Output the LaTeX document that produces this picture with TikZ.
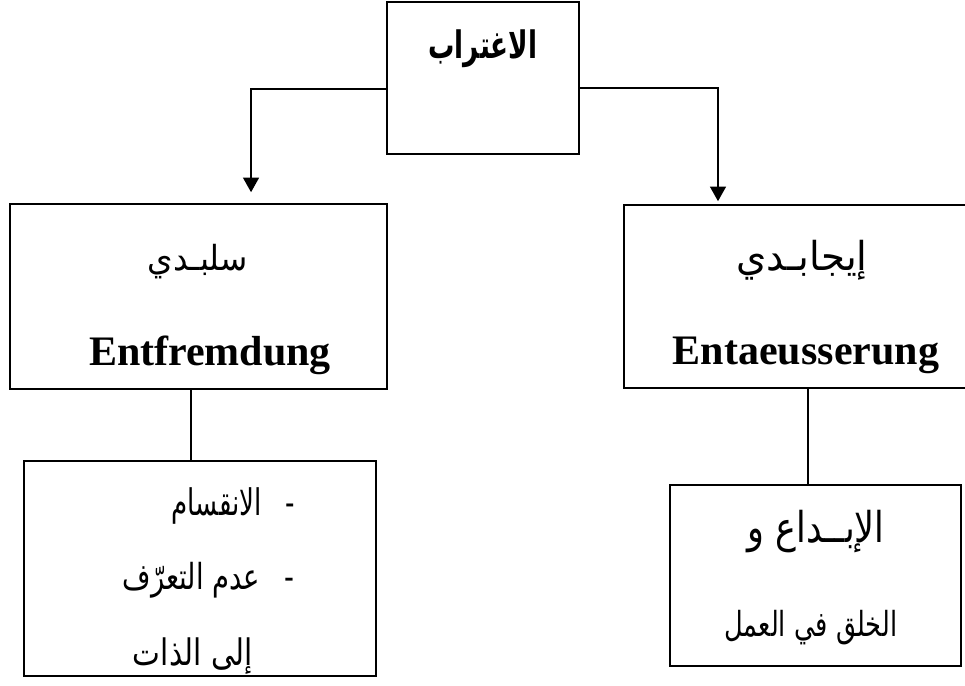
\documentclass[tikz,border=0pt]{standalone}
\usepackage{fontspec}
\setmainfont{Liberation Serif}
\newfontfamily\arabicfont[Script=Arabic]{DejaVu Sans}
\usetikzlibrary{arrows.meta}
\TeXXeTstate=1
\newcommand{\arfit}[3]{\resizebox*{#1}{#2}{\arabicfont #3}}
\newcommand{\arfitb}[3]{\resizebox*{#1}{#2}{\arabicfont\bfseries #3}}
\begin{document}
\begin{tikzpicture}[x=0.75pt,y=-0.75pt,
  box/.style={draw,line width=1.2pt,rectangle,inner sep=0pt},
  conn/.style={line width=1.2pt},
  arr/.style={conn,-{Triangle[width=12pt,length=11pt]}},
  lat/.style={inner sep=0pt,font=\fontsize{31.5}{36}\selectfont\bfseries},
  txt/.style={inner sep=0pt}]
\useasboundingbox (0,0) rectangle (965,686);
\clip (0,0) rectangle (965,686);
% boxes
\node[box,minimum width=144pt,minimum height=114pt] (top) at (483,78) {};
\node[box,minimum width=282.75pt,minimum height=138.75pt] (left) at (198.5,296.5) {};
\node[box,minimum width=274.5pt,minimum height=137.25pt] (right) at (807,296.5) {};
\node[box,minimum width=264pt,minimum height=161.25pt] (bl) at (200,568.5) {};
\node[box,minimum width=218.25pt,minimum height=135.75pt] (br) at (815.5,575.5) {};
% texts
\node[txt] (ttop) at (483,49) {\arfitb{81.75pt}{28.5pt}{\beginR الاغتراب\endR}};
\node[txt] (tl1) at (198,262) {\arfit{75pt}{26pt}{\beginR سلبـدي\endR}};
\node[lat] (tl2) at (210,355) {Entfremdung};
\node[txt] (tr1) at (802,260) {\arfit{98.25pt}{30pt}{\beginR إيجابـدي\endR}};
\node[lat] (tr2) at (806,355) {Entaeusserung};
\node[txt,anchor=east] (tb1) at (295,506) {\arfit{92.25pt}{27.5pt}{\beginR -\hspace{0.9em}الانقسام\endR}};
\node[txt,anchor=east] (tb2) at (295,580) {\arfit{129pt}{27pt}{\beginR -\hspace{0.9em}عدم التعرّف\endR}};
\node[txt] (tb3) at (193,656) {\arfit{90pt}{27.5pt}{\beginR إلى الذات\endR}};
\node[txt] (tc1) at (816,532) {\arfit{102.75pt}{32pt}{\beginR الإبــداع و\endR}};
\node[txt] (tc2) at (811,628) {\arfit{129.75pt}{26pt}{\beginR الخلق في العمل\endR}};
% connectors
\draw[arr,shorten >=8.25pt] ([yshift=-8.25pt]top.west) -| ([xshift=39.4pt]left.north);
\draw[arr,shorten >=2.25pt] ([yshift=-7.5pt]top.east) -| ([xshift=-66.75pt]right.north);
\draw[conn] ([xshift=-5.6pt]left.south) -- ([xshift=-5.6pt]left.south |- bl.north);
\draw[conn] ([xshift=0.75pt]right.south) -- ([xshift=0.75pt]right.south |- br.north);
\end{tikzpicture}
\end{document}
